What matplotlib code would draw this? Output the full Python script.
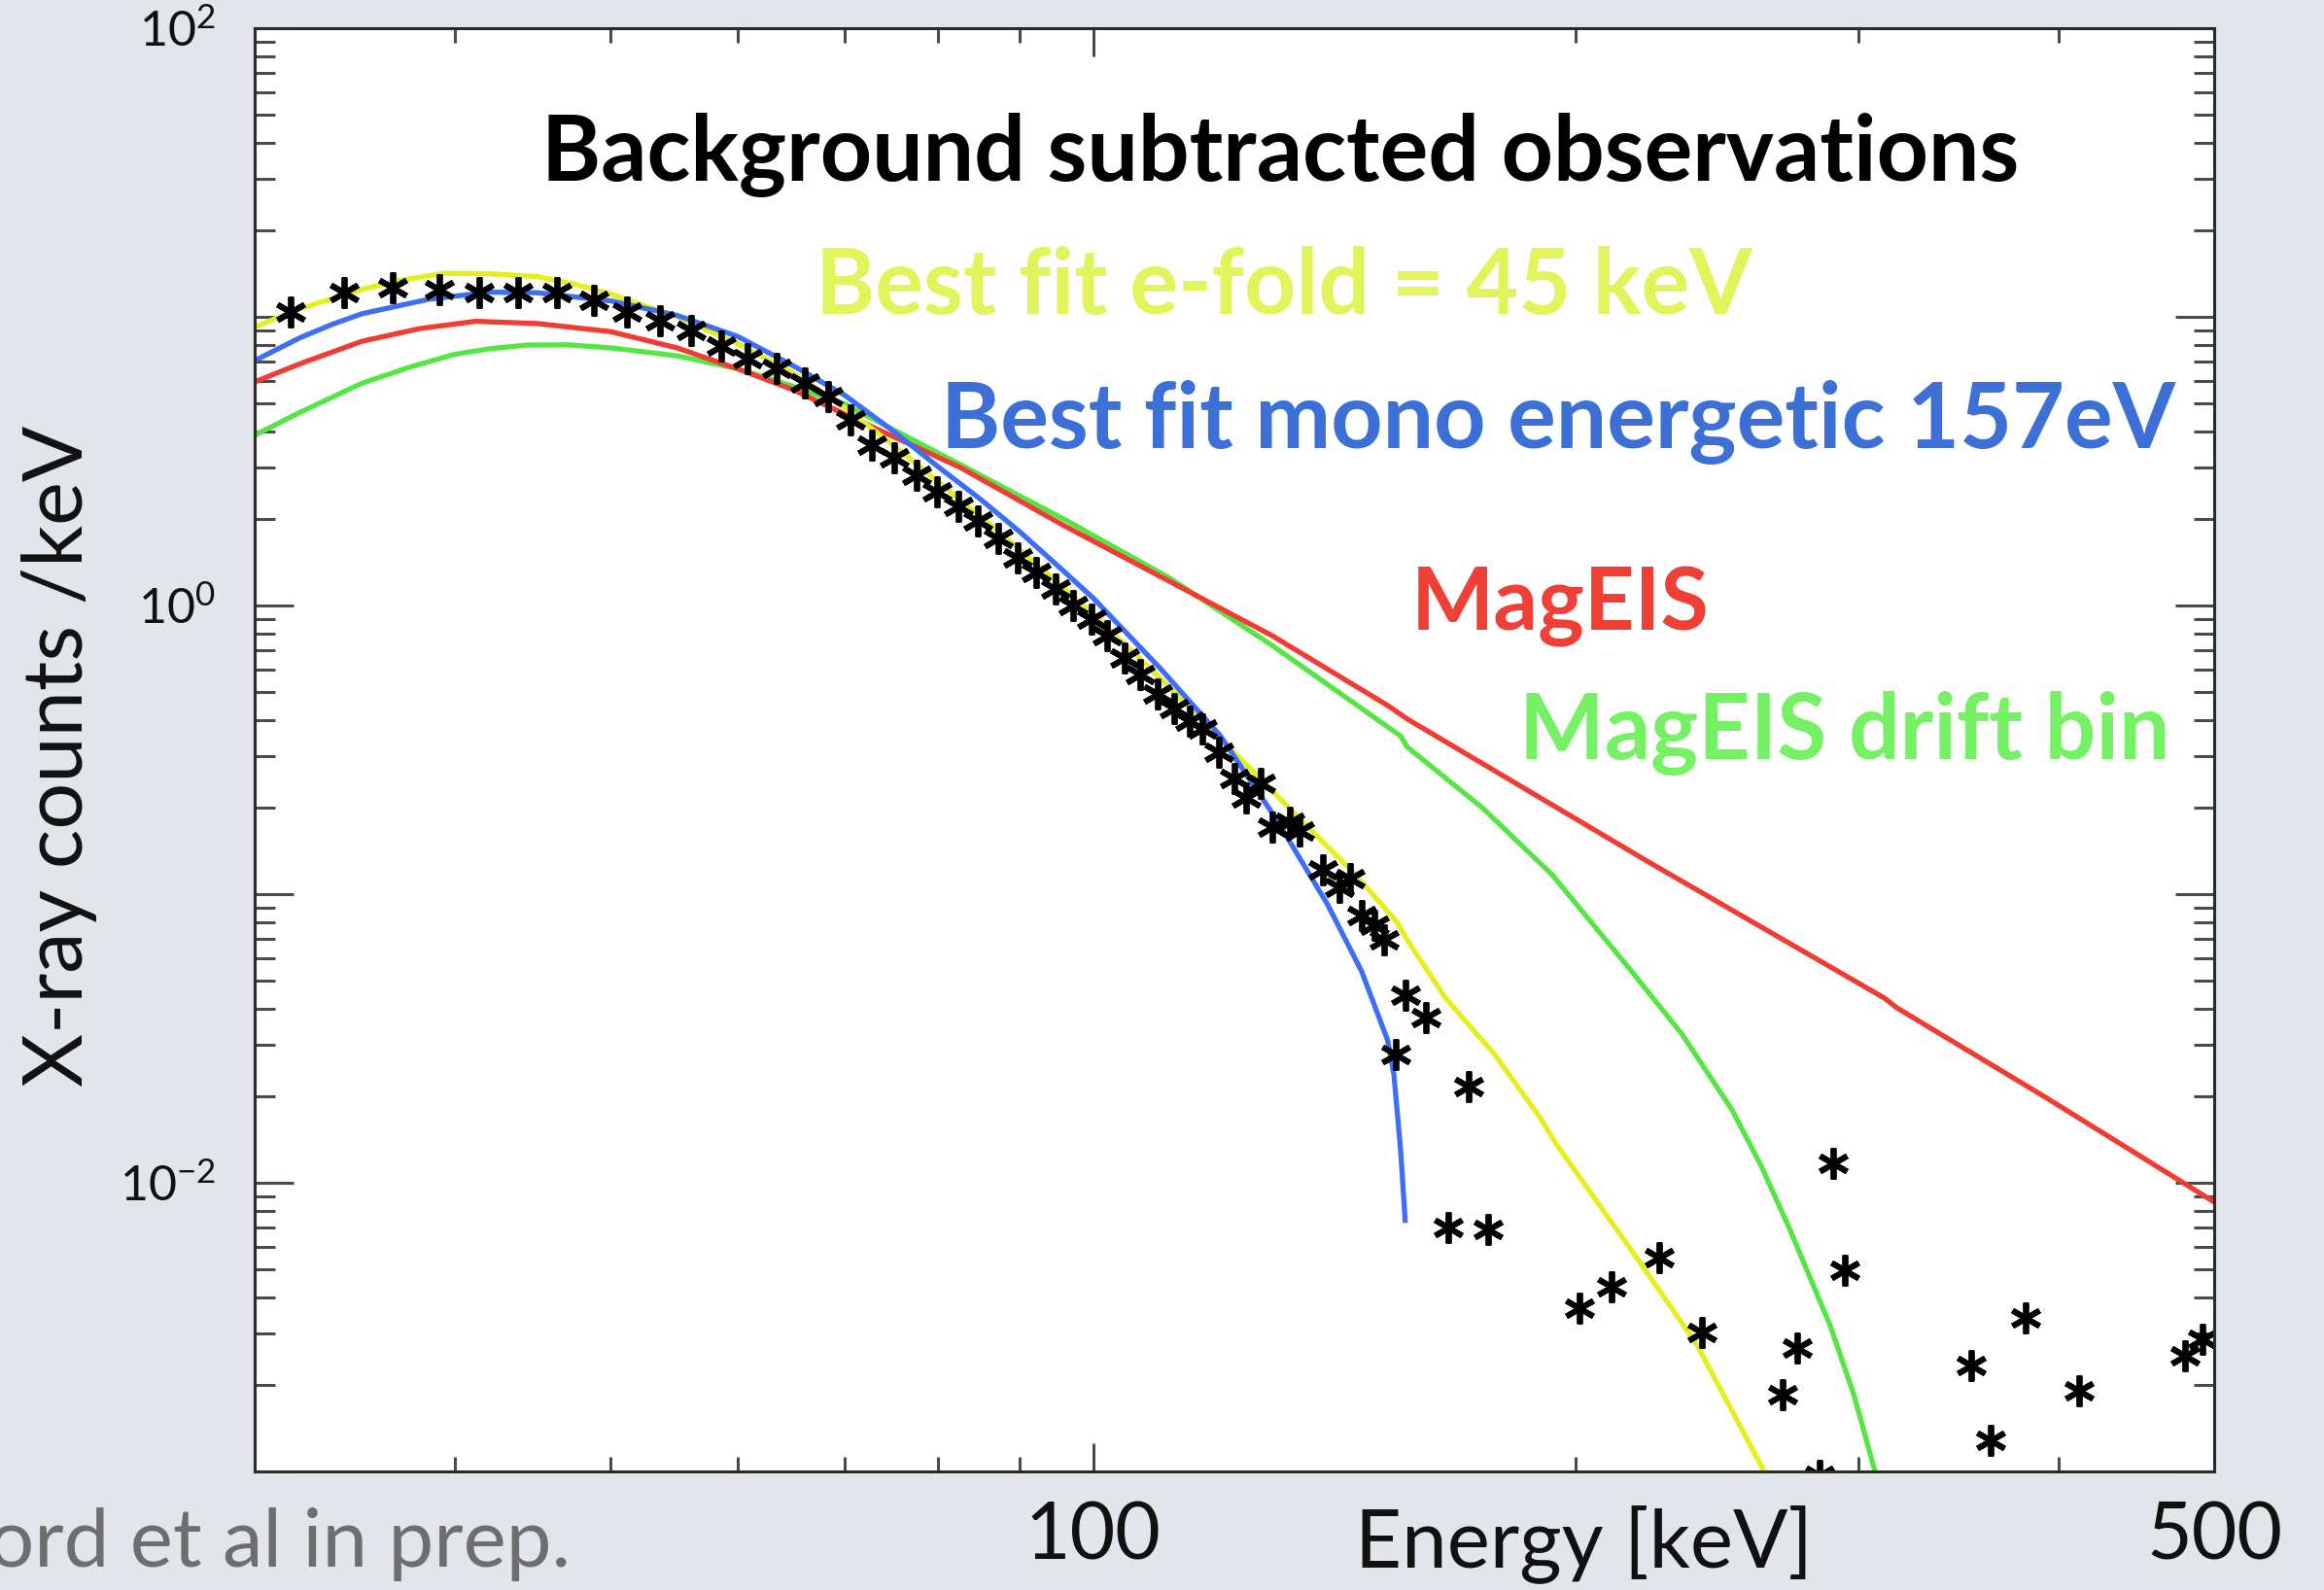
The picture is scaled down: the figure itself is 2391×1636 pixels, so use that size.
import matplotlib
matplotlib.use("Agg")
import matplotlib.pyplot as plt
from matplotlib.ticker import FixedLocator, FuncFormatter, NullFormatter

# ---------------- data ----------------
obs_energy = [31.6, 34.1, 36.6, 39.1, 41.4, 43.8, 46.3, 48.8, 51.2, 53.7,
              56.1, 58.6, 60.9, 63.5, 66.1, 68.3, 70.6, 72.8, 75.1, 77.6,
              79.9, 82.4, 84.7, 87.2, 89.7, 92.1, 94.7, 97.1, 99.8, 102.0,
              104.6, 107.0, 109.7, 112.3, 114.9, 117.0, 119.8, 122.4, 124.6, 127.2,
              129.3, 132.7, 134.5, 139.0, 142.3, 144.6, 147.0, 149.7, 151.8, 154.3,
              156.5, 161.3, 166.6, 171.4, 176.2, 200.9, 210.6, 225.4, 239.8, 269.2,
              274.8, 283.7, 289.3, 294.1, 352.7, 362.8, 381.5, 412.0, 479.7, 491.5]
obs_counts = [10.4, 12.1, 12.6, 12.4, 12.1, 12.1, 12.1, 11.4, 10.4, 9.73,
              9.00, 7.91, 7.14, 6.61, 5.89, 5.30, 4.38, 3.60, 3.25, 2.82,
              2.48, 2.21, 1.97, 1.71, 1.46, 1.30, 1.14, 1.00, 0.894, 0.786,
              0.656, 0.577, 0.494, 0.438, 0.398, 0.375, 0.311, 0.251, 0.216, 0.242,
              0.171, 0.178, 0.166, 0.121, 0.1054, 0.113, 0.0845, 0.0778, 0.0696, 0.0279,
              0.0447, 0.0374, 0.00701, 0.0215, 0.00691, 0.00368, 0.00437, 0.0055, 0.00304, 0.00185,
              0.00267, 0.00097, 0.0117, 0.00496, 0.00233, 0.00128, 0.0034, 0.0019, 0.00252, 0.00287]

efold_energy = [30, 31, 32, 33, 35, 37, 39.4, 42, 45, 47.5, 50, 55, 60, 65, 70, 75,
                80, 85, 90, 95, 100, 110, 120, 135.8, 145.6, 154.7, 156.9, 165.9,
                177.9, 190.0, 194.4, 219.5, 237.8, 261.8, 265.1]
efold_counts = [9.21, 9.93, 10.65, 11.25, 12.44, 13.4, 14.15, 14.1, 13.79, 12.97,
                12.0, 10.0, 8.08, 6.39, 4.85, 3.6, 2.69, 2.04, 1.56, 1.20, 0.933,
                0.562, 0.347, 0.173, 0.1175, 0.0799, 0.0696, 0.0435, 0.0279, 0.0168,
                0.01363, 0.00525, 0.00276, 0.00101, 0.000865]

mono_energy = [30, 32, 33.5, 35, 38.5, 42, 45, 50, 55, 60, 65, 70, 75, 80, 85, 90,
               95, 100, 110, 120, 130, 140, 147.0, 152.6, 154.0, 155.5, 156.5]
mono_counts = [7.05, 8.45, 9.4, 10.25, 11.5, 12.18, 12.12, 11.36, 10.12, 8.56, 6.77,
               5.35, 4.03, 3.03, 2.34, 1.80, 1.375, 1.061, 0.609, 0.354, 0.1826,
               0.0921, 0.0541, 0.0312, 0.02368, 0.01288, 0.00741]

mageis_energy = [30, 32, 35, 38, 41.2, 45, 50, 55, 60, 65, 70, 82.6, 95.9, 111.4,
                 129.3, 152.7, 156.9, 221.2, 311.5, 317.0, 393.2, 500]
mageis_counts = [5.95, 6.87, 8.23, 9.1, 9.65, 9.48, 8.89, 7.81, 6.61, 5.59, 4.6,
                 3.01, 1.89, 1.218, 0.786, 0.4496, 0.405, 0.1307, 0.0436, 0.0404,
                 0.01965, 0.00858]

drift_energy = [30, 32, 35, 37.5, 40, 42, 44.3, 47, 50, 55, 60, 65, 70, 82.6, 95.9,
                111.4, 129.3, 155.5, 156.9, 175.0, 193.3, 216.6, 233.0, 250.3,
                261.0, 271.5, 288.1, 298.0, 307.1, 308.4]
drift_counts = [3.89, 4.66, 5.89, 6.7, 7.42, 7.75, 7.98, 8.0, 7.81, 7.33, 6.61,
                5.75, 4.98, 3.08, 1.99, 1.252, 0.727, 0.353, 0.324, 0.1983, 0.1166,
                0.0541, 0.0326, 0.01784, 0.0114, 0.00702, 0.0032, 0.00185, 0.00101,
                0.000868]

x_major = [100, 500]
x_minor = [40, 50, 60, 70, 80, 90, 200, 300, 400]
x_labels = {100: "100", 500: "500"}
y_labels = {1e2: r"$\mathregular{10^{2}}$", 1e0: r"$\mathregular{10^{0}}$",
            1e-2: r"$\mathregular{10^{-2}}$"}

annotations = [
    ("Background subtracted observations", "#000000"),
    ("Best fit e-fold = 45 keV", "#e1f45c"),
    ("Best fit mono energetic 157eV", "#3d70d6"),
    ("MagEIS", "#ee4036"),
    ("MagEIS drift bin", "#76f064"),
]

# ---------------- figure ----------------
plt.rcParams["font.family"] = ["Lato", "DejaVu Sans"]
plt.rcParams["mathtext.default"] = "regular"

W, H = 2391, 1636
fig = plt.figure(figsize=(W / 100, H / 100), dpi=100, facecolor="#e2e6ea")
ax = fig.add_axes([262 / W, 1 - 1514 / H, (2278 - 262) / W, (1514 - 29) / H])
ax.set_facecolor("white")
ax.set_xscale("log")
ax.set_yscale("log")
ax.set_xlim(30, 500)
ax.set_ylim(1e-3, 1e2)

lw = 3.8
ax.plot(drift_energy, drift_counts, color="#55e645", lw=lw, solid_joinstyle="round")
ax.plot(mageis_energy, mageis_counts, color="#f03c32", lw=lw, solid_joinstyle="round")
ax.plot(efold_energy, efold_counts, color="#e6ee1e", lw=lw, solid_joinstyle="round")
ax.plot(mono_energy, mono_counts, color="#3c6ff5", lw=lw, solid_joinstyle="round")
ax.plot(obs_energy, obs_counts, linestyle="none", marker=(6, 2, 0),
        markersize=23, markeredgewidth=4.2, color="black")

# ticks
ax.xaxis.set_major_locator(FixedLocator(x_major))
ax.xaxis.set_minor_locator(FixedLocator(x_minor))
ax.xaxis.set_major_formatter(FuncFormatter(lambda v, p: x_labels.get(int(round(v)), "")))
ax.xaxis.set_minor_formatter(NullFormatter())
ydec = [1e-3, 1e-2, 1e-1, 1e0, 1e1, 1e2]
ax.yaxis.set_major_locator(FixedLocator(ydec))
ax.yaxis.set_minor_locator(FixedLocator([m * d for d in ydec[:-1] for m in range(2, 10)]))


def yfmt(v, p):
    for k, s in y_labels.items():
        if abs(v / k - 1) < 1e-6:
            return s
    return ""


ax.yaxis.set_major_formatter(FuncFormatter(yfmt))
ax.yaxis.set_minor_formatter(NullFormatter())

tick_col = "#4a4a4a"
ax.tick_params(axis="both", which="both", direction="in", top=True, right=True,
               color=tick_col, width=2.2, labelcolor="#111111")
ax.tick_params(axis="y", which="major", length=29, pad=29, labelsize=36)
ax.tick_params(axis="y", which="minor", length=15)
ax.tick_params(axis="x", which="major", length=21, pad=22, labelsize=58)
ax.tick_params(axis="x", which="minor", length=11)
for sp in ax.spines.values():
    sp.set_linewidth(2.2)
    sp.set_color("#2a2a2a")

# axis labels (slide text)
fig.text(61 / W, 1 - 778 / H, "X-ray counts /keV", rotation=90, ha="center",
         va="center", fontsize=61, color="#111111")
fig.text(1629 / W, 1 - 1612 / H, "Energy [keV]", ha="center", va="baseline",
         fontsize=60, color="#111111")
fig.text(-12 / W, 1 - 1612 / H, "ord et al in prep.", ha="left", va="baseline",
         fontsize=60, color="#6e6e6e")

# annotations inside the plot
pos = [(557, 186, 67), (839, 323, 67), (968, 461, 67), (1452, 648, 65), (1563, 781, 67)]
for (txt, col), (x, y, fs) in zip(annotations, pos):
    fig.text(x / W, 1 - y / H, txt, ha="left", va="baseline", fontsize=fs,
             fontweight="bold", color=col)

fig.savefig("out.png", dpi=100, facecolor=fig.get_facecolor())
